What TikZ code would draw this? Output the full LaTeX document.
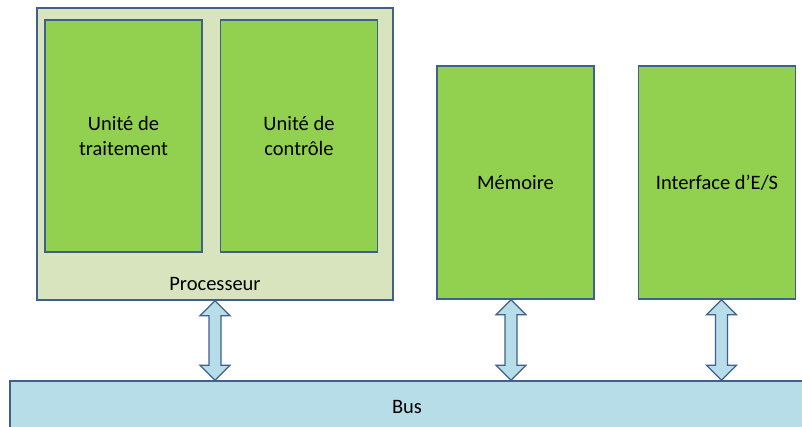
\documentclass[tikz,border=0pt]{standalone}
\usepackage{fontspec}
\setmainfont{Carlito}
\usepackage{tikz}
\usetikzlibrary{positioning, calc}
\definecolor{unitgreen}{RGB}{146, 208, 80}
\definecolor{procfill}{RGB}{215, 228, 189}
\definecolor{busblue}{RGB}{183, 222, 232}
\definecolor{edgeblue}{RGB}{62, 96, 138}

\begin{document}
\begin{tikzpicture}[
        x=1pt, y=1pt,
        % Base style for every framed block
        block/.style={
            draw=edgeblue,
            line width=1.5pt,
            inner sep=0pt,
            align=center,
            font=\fontsize{20.5}{25}\selectfont
        },
        % Green functional units
        unit/.style={
            block,
            fill=unitgreen,
            minimum width=157pt,
            minimum height=232pt
        },
        % Double block arrows down to the bus
        busarrow/.style={
            draw=edgeblue,
            fill=busblue,
            line width=1.3pt,
            line join=miter
        }
    ]

    % 0. Page frame (the bus runs off the right and bottom edges)
    \clip (0,0) rectangle (802,-426);

    % 1. Processor with its two units
    \node[block, fill=procfill, minimum width=356pt, minimum height=292pt] (proc) at (215,-154) {};
    \node[unit] (ut) at (123.5,-136) {Unit\'e de\\traitement};
    \node[unit, right=17pt of ut] (uc) {Unit\'e de\\contr\^ole};
    \node[font=\fontsize{20.5}{25}\selectfont] (proclbl) at ([yshift=17pt]proc.south) {Processeur};

    % 2. Memory and I/O interface
    \node[unit, minimum height=233pt] (mem) at (515.5,-182.5) {M\'emoire};
    \node[unit, minimum height=233pt, right=43pt of mem] (io) {Interface d’E/S};

    % 3. Bus
    \node[block, fill=busblue, minimum width=794pt, minimum height=52pt] (bus) at (407,-407) {Bus};

    % 4. Double arrows between each block and the bus
    \foreach \blk/\dx in {proc/0, mem/-4.5, io/4.5} {
        \coordinate (t) at ([xshift=\dx pt]\blk.south);
        \coordinate (b) at (t |- bus.north);
        \draw[busarrow] (t) -- ++(15,-15) -- ++(-9,0) -- ($(b)+(6,15)$) -- ++(9,0)
            -- (b) -- ++(-15,15) -- ++(9,0) -- ($(t)+(-6,-15)$) -- ++(-9,0) -- cycle;
    }

\end{tikzpicture}
\end{document}
